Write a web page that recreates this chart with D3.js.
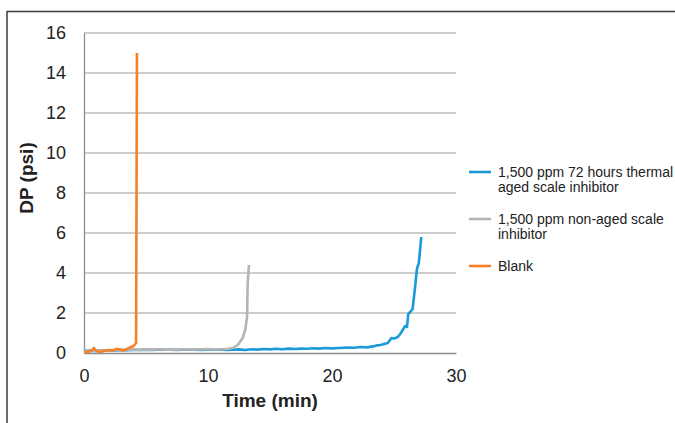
<!DOCTYPE html>
<html>
<head>
<meta charset="utf-8">
<script src="https://cdn.jsdelivr.net/npm/d3@7"></script>
<style>
  html, body { margin: 0; padding: 0; background: #fff; }
  svg { display: block; font-family: "Liberation Sans", Arial, sans-serif; }
</style>
</head>
<body>
<svg id="chart" width="675" height="423"></svg>
<script>
// Differential pressure over time for three test runs
const agedTime = [0, 0.5, 1, 1.5, 2, 2.5, 3, 3.5, 4, 4.5, 5, 5.5, 6, 6.5, 7, 7.5, 8, 8.5, 9, 9.5, 10, 10.5, 11, 11.5, 12, 12.5, 13, 13.5, 14, 14.5, 15, 15.5, 16, 16.5, 17, 17.5, 18, 18.5, 19, 19.5, 20, 20.6, 21.2, 21.8, 22.3, 22.8, 23.3, 23.6, 23.9, 24.2, 24.5, 24.8, 25.0, 25.3, 25.5, 25.7, 25.9, 26.05, 26.15, 26.3, 26.5, 26.7, 26.85, 27.0, 27.2];
const agedDP   = [0.10, 0.12, 0.10, 0.14, 0.12, 0.13, 0.15, 0.14, 0.16, 0.15, 0.17, 0.15, 0.18, 0.16, 0.17, 0.15, 0.18, 0.16, 0.17, 0.15, 0.17, 0.16, 0.18, 0.15, 0.16, 0.18, 0.15, 0.19, 0.17, 0.20, 0.18, 0.21, 0.19, 0.22, 0.20, 0.22, 0.21, 0.24, 0.22, 0.25, 0.23, 0.25, 0.27, 0.26, 0.30, 0.28, 0.33, 0.38, 0.40, 0.45, 0.50, 0.75, 0.72, 0.80, 0.95, 1.15, 1.35, 1.30, 1.95, 2.05, 2.20, 3.30, 4.20, 4.50, 5.80];

const nonAgedTime = [0, 0.5, 1, 1.5, 2, 2.5, 3, 3.5, 4, 4.5, 5, 5.5, 6, 6.5, 7, 7.5, 8, 8.5, 9, 9.5, 10, 10.5, 11, 11.5, 12.0, 12.4, 12.8, 13.0, 13.15, 13.2, 13.3];
const nonAgedDP   = [0.10, 0.12, 0.11, 0.14, 0.13, 0.15, 0.16, 0.15, 0.17, 0.16, 0.18, 0.17, 0.19, 0.17, 0.18, 0.17, 0.19, 0.18, 0.19, 0.18, 0.20, 0.18, 0.19, 0.20, 0.25, 0.40, 0.75, 1.15, 1.80, 3.50, 4.40];

const blankTime = [0, 0.3, 0.6, 0.8, 1.0, 1.3, 1.6, 2.0, 2.3, 2.6, 2.9, 3.2, 3.5, 3.8, 4.0, 4.2, 4.27];
const blankDP   = [0.05, 0.05, 0.12, 0.25, 0.10, 0.05, 0.10, 0.15, 0.12, 0.20, 0.18, 0.12, 0.22, 0.30, 0.35, 0.50, 15.0];

const xTicks = [0, 10, 20, 30];
const yTicks = [0, 2, 4, 6, 8, 10, 12, 14, 16];

const seriesNames = ["1,500 ppm 72 hours thermal aged scale inhibitor", "1,500 ppm non-aged scale inhibitor", "Blank"];
const seriesColors = ["#1b9ad7", "#b4b4b6", "#f58026"];
const legendLines = [["1,500 ppm 72 hours thermal", "aged scale inhibitor"], ["1,500 ppm non-aged scale", "inhibitor"], ["Blank"]];

const svg = d3.select("#chart");
const plot = { left: 84, right: 456, top: 33, bottom: 353 };

const x = d3.scaleLinear().domain([0, 30]).range([plot.left, plot.right]);
const y = d3.scaleLinear().domain([0, 16]).range([plot.bottom, plot.top]);

// outer frame (top and left edges)
svg.append("line").attr("x1", 7).attr("x2", 675).attr("y1", 11.5).attr("y2", 11.5)
  .attr("stroke", "#3a3a3a").attr("stroke-width", 1.5);
svg.append("line").attr("x1", 7).attr("x2", 7).attr("y1", 11).attr("y2", 423)
  .attr("stroke", "#3a3a3a").attr("stroke-width", 1.5);

// horizontal gridlines
svg.append("g")
  .selectAll("line")
  .data(yTicks.filter(d => d > 0))
  .join("line")
  .attr("x1", plot.left).attr("x2", plot.right)
  .attr("y1", d => y(d)).attr("y2", d => y(d))
  .attr("stroke", "#bdbdbd").attr("stroke-width", 1.3);

// axes
const tickFont = "Liberation Sans, Arial, sans-serif";
const xAxis = svg.append("g")
  .attr("transform", `translate(0,${plot.bottom})`)
  .call(d3.axisBottom(x).tickValues(xTicks).tickSize(0).tickPadding(16));
xAxis.select(".domain").attr("stroke", "#8c8c8c").attr("stroke-width", 1.3);
xAxis.selectAll("text").attr("font-size", 18).attr("fill", "#222").attr("font-family", tickFont);

const yAxis = svg.append("g")
  .attr("transform", `translate(${plot.left},0)`)
  .call(d3.axisLeft(y).tickValues(yTicks).tickSize(0).tickPadding(18));
yAxis.select(".domain").attr("stroke", "#8c8c8c").attr("stroke-width", 1.3);
yAxis.selectAll("text").attr("font-size", 18).attr("fill", "#222").attr("font-family", tickFont);

// axis titles
svg.append("text")
  .attr("x", (plot.left + plot.right) / 2).attr("y", 407)
  .attr("text-anchor", "middle").attr("font-size", 19).attr("font-weight", "bold").attr("fill", "#222")
  .text("Time (min)");
svg.append("text")
  .attr("transform", `translate(33,178) rotate(-90)`)
  .attr("text-anchor", "middle").attr("font-size", 19).attr("font-weight", "bold").attr("fill", "#222")
  .text("DP (psi)");

// series lines
const series = [
  { t: agedTime, v: agedDP },
  { t: nonAgedTime, v: nonAgedDP },
  { t: blankTime, v: blankDP }
];
const line = d3.line().x(d => x(d[0])).y(d => y(d[1]));
series.forEach((s, i) => {
  svg.append("path")
    .datum(s.t.map((t, j) => [t, s.v[j]]))
    .attr("d", line)
    .attr("fill", "none")
    .attr("stroke", seriesColors[i])
    .attr("stroke-width", 2.6)
    .attr("stroke-linejoin", "round");
});

// legend
const legendY = [172, 219, 266];
const legend = svg.append("g");
seriesNames.forEach((name, i) => {
  const g = legend.append("g").attr("transform", `translate(469,${legendY[i]})`);
  g.append("line").attr("x1", 0).attr("x2", 22).attr("y1", 0).attr("y2", 0)
    .attr("stroke", seriesColors[i]).attr("stroke-width", 2.6);
  const txt = g.append("text").attr("x", 29).attr("y", 5).attr("font-size", 14).attr("fill", "#222");
  legendLines[i].forEach((l, k) => {
    txt.append("tspan").attr("x", 29).attr("dy", k === 0 ? 0 : 15).text(l);
  });
});
</script>
</body>
</html>
